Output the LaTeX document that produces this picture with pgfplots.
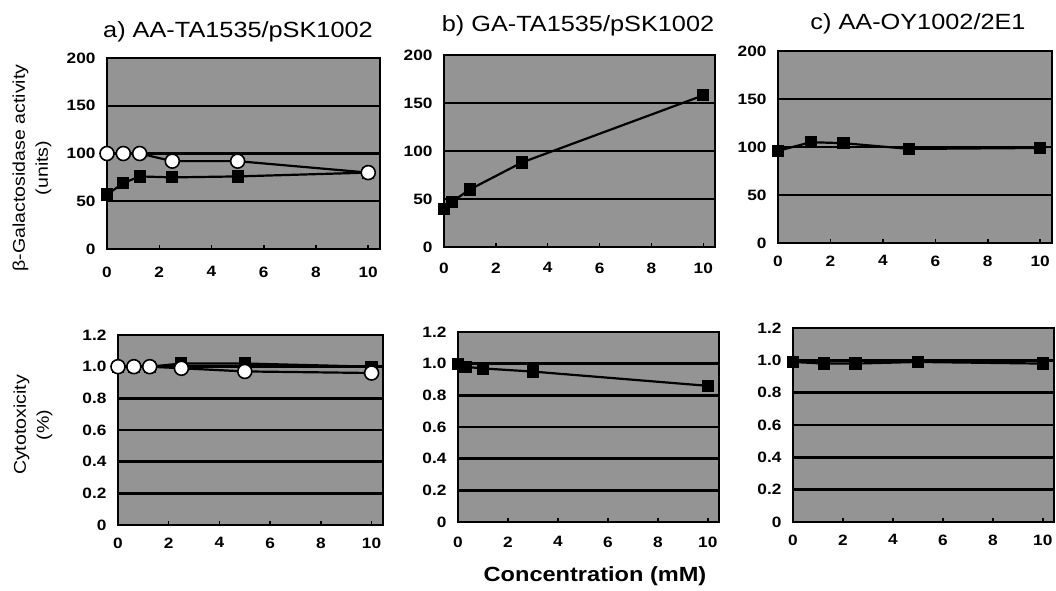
\documentclass[border=0pt]{standalone}
\usepackage{fontspec}
\setmainfont{Liberation Sans}[FakeStretch=1.15]
\usepackage{pgfplots}
\pgfplotsset{compat=1.18}

\pgfplotsset{
  panel/.style={
    scale only axis, anchor=north west, clip=false,
    xmin=0, xmax=10.45,
    xtick={0,2,4,6,8,10}, xticklabels={0,2,4,6,8,10},
    axis background/.style={fill=black!42},
    axis line style={line width=2.4pt},
    ymajorgrids, major grid style={black, line width=2.4pt},
    xtick pos=bottom, tick align=inside, major tick length=4pt,
    ytick style={draw=none},
    xtick style={black, line width=1.5pt},
    tick label style={font=\fontsize{15}{17}\selectfont\bfseries},
    /pgf/number format/assume math mode=true,
    yticklabel style={xshift=-8pt},
  },
  act/.style={panel, ymin=0, ymax=200,
    ytick={0,50,100,150,200}, yticklabels={0,50,100,150,200}},
  cyt/.style={panel, ymin=0, ymax=1.2,
    ytick={0,0.2,0.4,0.6,0.8,1.0,1.2},
    yticklabels={0,0.2,0.4,0.6,0.8,1.0,1.2}},
  sq/.style={black, line width=2.2pt, mark=square*, mark size=5pt,
    mark options={fill=black, solid}},
  ci/.style={black, line width=2.2pt, mark=*, mark size=7pt,
    mark options={fill=white, line width=1.6pt}},
}

\begin{document}
\begin{tikzpicture}
\useasboundingbox (0,0) rectangle (1056pt,-590pt);

% top row: beta-galactosidase activity
\begin{axis}[act, at={(107pt,-58pt)}, width=273pt, height=191pt,
  xticklabel style={yshift=-14pt}]
\addplot[sq] coordinates {(0,57) (0.625,69) (1.25,76) (2.5,75) (5,76) (10,80)};
\addplot[ci] coordinates {(0,100) (0.625,100) (1.25,100) (2.5,92) (5,92) (10,80)};
\end{axis}

\begin{axis}[act, at={(444pt,-55pt)}, width=271pt, height=192pt,
  xticklabel style={yshift=-12pt}]
\addplot[sq] coordinates {(0,40) (0.3,47) (1,60) (3,88) (10,158)};
\end{axis}

\begin{axis}[act, at={(778pt,-51pt)}, width=274pt, height=192pt,
  xticklabel style={yshift=-9pt}]
\addplot[sq] coordinates {(0,96) (1.25,105) (2.5,104) (5,98) (10,99)};
\end{axis}

% bottom row: cytotoxicity
\begin{axis}[cyt, at={(118pt,-335pt)}, width=265pt, height=190pt,
  xticklabel style={yshift=-9pt}]
\addplot[sq] coordinates {(0,1.0) (0.625,1.0) (1.25,1.0) (2.5,1.02) (5,1.02) (10,1.0)};
\addplot[ci] coordinates {(0,1.0) (0.625,1.0) (1.25,1.0) (2.5,0.99) (5,0.97) (10,0.96)};
\end{axis}

\begin{axis}[cyt, at={(458pt,-332pt)}, width=261pt, height=190pt,
  xticklabel style={yshift=-11pt}]
\addplot[sq] coordinates {(0,1.0) (0.3,0.98) (1,0.97) (3,0.95) (10,0.86)};
\end{axis}

\begin{axis}[cyt, at={(793pt,-328pt)}, width=261pt, height=194pt,
  xticklabel style={yshift=-9pt}]
\addplot[sq] coordinates {(0,0.99) (1.25,0.98) (2.5,0.98) (5,0.99) (10,0.98)};
\end{axis}

% titles and labels
\node[font=\fontsize{22}{26}\selectfont] at (238pt,-32pt) {a)\ AA-TA1535/pSK1002};
\node[font=\fontsize{22}{26}\selectfont] at (578pt,-26pt) {b)\ GA-TA1535/pSK1002};
\node[font=\fontsize{22}{26}\selectfont] at (918pt,-24pt) {c)\ AA-OY1002/2E1};
\node[rotate=90, align=center, font=\fontsize{17}{23}\selectfont] at (32pt,-168pt)
  {β-Galactosidase activity\\(units)};
\node[rotate=90, align=center, font=\fontsize{17}{23}\selectfont] at (33pt,-425pt)
  {Cytotoxicity\\(\%)};
\node[font=\fontsize{20.5}{25}\selectfont\bfseries] at (595pt,-576pt) {Concentration (mM)};
\end{tikzpicture}
\end{document}
